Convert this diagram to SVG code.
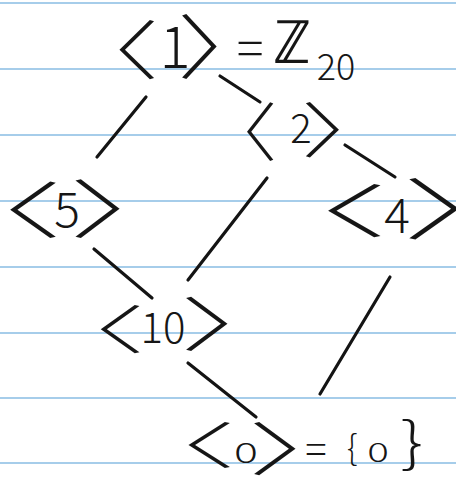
<svg xmlns="http://www.w3.org/2000/svg" width="456" height="477" viewBox="0 0 456 477">
<style>
.rule{stroke:#a6cdea;stroke-width:2}
.edge{stroke:#141414;stroke-width:3.2;stroke-linecap:round;fill:none}
text{font-family:"Noto Sans CJK JP","DejaVu Sans",sans-serif;font-weight:300;fill:#161616;text-anchor:middle}
.br{font-size:60px}
</style>
<rect width="456" height="477" fill="#ffffff"/>
<g id="paper">
<line class="rule" x1="0" y1="3" x2="456" y2="3"/>
<line class="rule" x1="0" y1="69" x2="456" y2="69"/>
<line class="rule" x1="0" y1="135" x2="456" y2="135"/>
<line class="rule" x1="0" y1="201" x2="456" y2="201"/>
<line class="rule" x1="0" y1="267" x2="456" y2="267"/>
<line class="rule" x1="0" y1="333" x2="456" y2="333"/>
<line class="rule" x1="0" y1="398" x2="456" y2="398"/>
<line class="rule" x1="0" y1="463" x2="456" y2="463"/>
</g>
<g id="connectors">
<line class="edge" x1="146" y1="97" x2="97" y2="157"/>
<line class="edge" x1="220" y1="76" x2="260" y2="102"/>
<line class="edge" x1="345" y1="145" x2="395" y2="177"/>
<line class="edge" x1="267" y1="178" x2="188" y2="280"/>
<line class="edge" x1="94" y1="249" x2="152" y2="298"/>
<line class="edge" x1="390" y1="277" x2="320" y2="394"/>
<line class="edge" x1="188" y1="363" x2="256" y2="417"/>
</g>
<g id="n1">
<text class="br" transform="translate(109,73.7) scale(1.67,1.07)">〈</text>
<text x="175" y="68" font-size="58">1</text>
<text class="br" transform="translate(227,73.3) scale(1.67,1.17)">〉</text>
<text x="250" y="67" font-size="50">=</text>
<text x="292" y="63" font-size="60">ℤ</text>
<text x="336" y="80" font-size="36">20</text>
</g>
<g id="n2">
<text class="br" transform="translate(239,155.8) scale(1.27,1.06)">〈</text>
<text x="301" y="143" font-size="40">2</text>
<text class="br" transform="translate(349,153) scale(1.6,1)">〉</text>
</g>
<g id="n5">
<text class="br" transform="translate(-3.5,233) scale(2.2,1.02)">〈</text>
<text x="67" y="227" font-size="48">5</text>
<text class="br" transform="translate(133,232.8) scale(2.13,1.06)">〉</text>
</g>
<g id="n4">
<text class="br" transform="translate(312.3,233) scale(2.53,0.96)">〈</text>
<text x="397" y="233" font-size="48">4</text>
<text class="br" transform="translate(474,233.6) scale(2.4,1.11)">〉</text>
</g>
<g id="n10">
<text class="br" transform="translate(89,348.5) scale(1.87,0.87)">〈</text>
<text x="163" y="343" font-size="42">10</text>
<text class="br" transform="translate(240,346) scale(2,0.98)">〉</text>
</g>
<g id="n0">
<text class="br" transform="translate(176,463.7) scale(2,0.83)">〈</text>
<text transform="translate(246,463) scale(1.6,1)" font-size="28">0</text>
<text class="br" transform="translate(308,471) scale(2,0.96)">〉</text>
<text x="316" y="464" font-size="40">=</text>
<text x="352" y="460" font-size="34">{</text>
<text transform="translate(378,462) scale(1.5,1)" font-size="27">0</text>
<text transform="translate(412,462) scale(1.3,1)" font-size="55">}</text>
</g>
</svg>
